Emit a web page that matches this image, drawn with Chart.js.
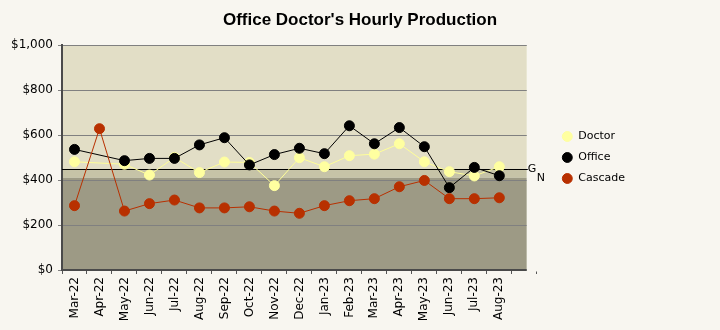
<!DOCTYPE html>
<html><head><meta charset="utf-8">
<script src="https://cdn.jsdelivr.net/npm/chart.js@4/dist/chart.umd.min.js"></script>
<style>html,body{margin:0;padding:0;background:#f8f6f0;} #wrap{width:720px;height:330px;position:relative;}</style>
</head><body><div id="wrap"><canvas id="c"></canvas></div>
<script>
const categories = ['Mar-22','Apr-22','May-22','Jun-22','Jul-22','Aug-22','Sep-22','Oct-22','Nov-22','Dec-22','Jan-23','Feb-23','Mar-23','Apr-23','May-23','Jun-23','Jul-23','Aug-23',''];
const doctorValues = [481,null,470,422,500,433,480,478,375,499,459,508,515,561,481,437,418,459];
const officeValues = [536,null,486,496,496,556,588,467,513,541,517,641,561,633,548,366,456,419];
const cascadeValues = [286,628,262,295,311,276,276,281,262,252,286,308,317,370,398,317,317,321];
const seriesNames = ['Doctor','Office','Cascade'];
const yTickValues = [0,200,400,600,800,1000];
const goalValue = 450;
const normValue = 410;
const goalLabel = 'G';
const normLabel = 'N';
const titleText = "Office Doctor's Hourly Production";

const PAGE = '#f8f6f0';
const bandsPlugin = {
  id: 'bands',
  afterLayout(chart) {
    const t = chart.titleBlock;
    if (t) { t.left = 0; t.right = chart.width; t.width = chart.width; }
  },
  beforeDraw(chart) {
    const {ctx, chartArea: a, scales: {y}} = chart;
    ctx.save();
    ctx.fillStyle = PAGE;
    ctx.fillRect(0, 0, chart.width, chart.height);
    const right = a.right - 10;
    const yG = y.getPixelForValue(goalValue), yN = y.getPixelForValue(normValue);
    ctx.fillStyle = '#e2dec6'; ctx.fillRect(a.left, a.top, right - a.left, yG - a.top);
    ctx.fillStyle = '#c6c3a7'; ctx.fillRect(a.left, yG, right - a.left, yN - yG);
    ctx.fillStyle = '#9d9a85'; ctx.fillRect(a.left, yN, right - a.left, a.bottom - yN);
    ctx.restore();
  },
  beforeDatasetsDraw(chart) {
    const {ctx, chartArea: a, scales: {y}} = chart;
    const right = a.right - 10;
    const yG = y.getPixelForValue(goalValue), yN = y.getPixelForValue(normValue);
    ctx.save();
    ctx.fillStyle = PAGE;
    ctx.fillRect(right, a.top - 2, a.right - right + 2, a.bottom - a.top + 3.5);
    ctx.strokeStyle = '#000'; ctx.lineWidth = 1;
    ctx.beginPath();
    ctx.moveTo(a.left, Math.round(yG) + 0.5);
    ctx.lineTo(right + 1, Math.round(yG) + 0.5);
    ctx.stroke();
    ctx.fillStyle = '#000';
    ctx.font = '11px "DejaVu Sans"';
    ctx.textBaseline = 'middle';
    ctx.textAlign = 'left';
    ctx.fillText(goalLabel, right + 1, yG);
    ctx.fillText(normLabel, right + 10, yN);
    ctx.restore();
  }
};

const mk = (label, data, line, point, order) => ({
  label, data, order,
  borderColor: line, backgroundColor: point,
  pointBackgroundColor: point, pointBorderColor: point,
  borderWidth: 1, pointRadius: 5, pointBorderWidth: 1, pointHoverRadius: 5,
  tension: 0, spanGaps: true, fill: false
});

new Chart(document.getElementById('c'), {
  type: 'line',
  data: {
    labels: categories,
    datasets: [
      mk(seriesNames[0], doctorValues, '#ffff99', '#ffffa0', 3),
      mk(seriesNames[1], officeValues, '#000000', '#000000', 2),
      mk(seriesNames[2], cascadeValues, '#b83000', '#b83000', 1)
    ]
  },
  options: {
    responsive: true, maintainAspectRatio: false, animation: false,
    layout: {padding: {left: 0, right: 85, top: 0, bottom: 0}},
    plugins: {
      title: {display: true, text: titleText, color: '#000',
        font: {family: '"Liberation Sans"', size: 17, weight: 'bold'},
        padding: {top: 10, bottom: 14.6}},
      legend: {position: 'right', align: 'center', fullSize: false,
        labels: {usePointStyle: true, pointStyle: 'circle', boxHeight: 7, boxWidth: 11, padding: 10,
          color: '#000', font: {family: '"DejaVu Sans"', size: 11},
          sort: (a, b) => a.datasetIndex - b.datasetIndex}},
      tooltip: {enabled: false}
    },
    scales: {
      x: {
        type: 'category', offset: true,
        grid: {display: true, drawOnChartArea: false, drawTicks: true, tickLength: 4, color: '#555', offset: true},
        border: {display: true, color: '#4a4a4a', width: 2},
        ticks: {autoSkip: false, minRotation: 90, maxRotation: 90, padding: 3, color: '#000',
          font: {family: '"DejaVu Sans"', size: 12}},
        afterFit(s) { s.height = 60; }
      },
      y: {
        min: 0, max: 1000,
        afterBuildTicks(s) { s.ticks = yTickValues.map(v => ({value: v})); },
        grid: {color: '#808080', lineWidth: 1, drawTicks: true, tickLength: 4},
        border: {display: true, color: '#4a4a4a', width: 2},
        ticks: {padding: 5, color: '#000', font: {family: '"DejaVu Sans"', size: 12},
          callback: v => '$' + v.toLocaleString('en-US')},
        afterFit(s) { s.width = 62; }
      },
      yR: {
        position: 'right', display: true,
        grid: {display: false}, border: {display: false}, ticks: {display: false},
        afterFit(s) { s.width = 15; }
      }
    }
  },
  plugins: [bandsPlugin]
});
</script></body></html>
